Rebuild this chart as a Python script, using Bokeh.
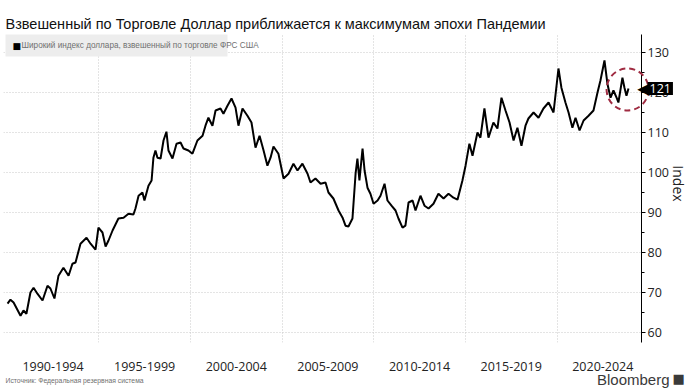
import math
from bokeh.plotting import figure
from bokeh.layouts import column
from bokeh.models import Range1d, FixedTicker, Label, BoxAnnotation
from bokeh.embed import file_html
from bokeh.resources import INLINE

# ---- data ----
years = [1990.02, 1990.18, 1990.35, 1990.73, 1990.89, 1991.05, 1991.27, 1991.44, 1991.65, 1991.93,
         1992.20, 1992.36, 1992.58, 1992.80, 1993.07, 1993.35, 1993.56, 1993.73, 1994.00, 1994.33,
         1994.55, 1994.82, 1994.98, 1995.20, 1995.37, 1995.53, 1995.75, 1996.07, 1996.35, 1996.62,
         1996.89, 1997.00, 1997.17, 1997.38, 1997.49, 1997.71, 1997.88, 1997.98, 1998.09, 1998.20,
         1998.37, 1998.53, 1998.69, 1998.80, 1999.02, 1999.24, 1999.46, 1999.62, 1999.89, 2000.11,
         2000.38, 2000.66, 2000.82, 2000.98, 2001.20, 2001.37, 2001.64, 2001.80, 2002.02, 2002.24,
         2002.46, 2002.62, 2002.84, 2003.11, 2003.33, 2003.55, 2003.77, 2003.99, 2004.20, 2004.37,
         2004.53, 2004.80, 2005.08, 2005.35, 2005.62, 2005.84, 2006.11, 2006.39, 2006.55, 2006.82,
         2007.10, 2007.37, 2007.53, 2007.80, 2008.08, 2008.30, 2008.46, 2008.62, 2008.84, 2009.01,
         2009.11, 2009.22, 2009.39, 2009.50, 2009.66, 2009.82, 2009.99, 2010.21, 2010.37, 2010.59,
         2010.75, 2010.97, 2011.19, 2011.35, 2011.57, 2011.73, 2011.90, 2012.12, 2012.28, 2012.55,
         2012.77, 2012.99, 2013.26, 2013.53, 2013.81, 2014.08, 2014.35, 2014.57, 2014.84, 2015.01,
         2015.22, 2015.39, 2015.66, 2015.82, 2016.04, 2016.26, 2016.53, 2016.75, 2016.97, 2017.19,
         2017.41, 2017.63, 2017.84, 2018.06, 2018.28, 2018.44, 2018.72, 2018.99, 2019.26, 2019.54,
         2019.81, 2020.08, 2020.24, 2020.46, 2020.63, 2020.84, 2021.01, 2021.23, 2021.45, 2021.72,
         2021.99, 2022.21, 2022.37, 2022.59, 2022.75, 2022.92, 2023.08, 2023.25, 2023.35, 2023.57,
         2023.68, 2023.79, 2023.90]

dollar_index = [67.2, 68.2, 67.5, 64.2, 65.5, 64.7, 70.0, 71.2, 69.7, 68.0,
                71.7, 71.0, 68.5, 74.2, 76.2, 74.2, 77.2, 77.5, 82.2, 83.7,
                82.2, 80.7, 86.2, 85.0, 81.5, 83.0, 85.5, 88.5, 88.7, 89.7,
                89.5, 91.0, 94.2, 95.0, 93.0, 96.7, 98.0, 103.7, 105.5, 103.7,
                103.5, 108.0, 110.2, 105.5, 103.5, 107.2, 107.5, 106.0, 105.5, 104.7,
                108.0, 109.2, 111.7, 113.7, 111.7, 115.5, 116.0, 114.7, 116.7, 118.5,
                116.2, 111.7, 116.0, 114.2, 112.5, 106.2, 109.2, 105.5, 101.7, 103.7,
                106.5, 104.7, 98.5, 99.7, 102.2, 100.5, 102.2, 99.7, 97.5, 98.5,
                97.2, 97.5, 95.0, 93.5, 90.5, 88.7, 86.7, 86.5, 88.5, 99.7,
                103.5, 98.0, 106.0, 100.5, 96.2, 94.7, 92.2, 93.0, 94.2, 97.2,
                93.0, 91.7, 90.5, 88.5, 86.2, 86.7, 92.5, 93.0, 90.5, 94.2,
                91.7, 91.0, 92.2, 94.7, 93.5, 94.7, 93.7, 93.2, 98.0, 101.7,
                107.2, 104.2, 110.0, 108.7, 116.0, 108.7, 112.5, 111.0, 118.7, 115.5,
                112.5, 108.0, 111.2, 106.7, 111.7, 113.5, 115.0, 113.7, 116.0, 117.5,
                115.0, 126.0, 121.2, 117.5, 115.0, 111.2, 113.7, 110.5, 113.0, 114.2,
                115.5, 120.0, 123.0, 128.0, 122.2, 118.7, 120.5, 118.7, 117.5, 123.7,
                121.2, 119.2, 121.0]

period_labels = ["1990-1994", "1995-1999", "2000-2004", "2005-2009",
                 "2010-2014", "2015-2019", "2020-2024"]
period_mid = [1992.5, 1997.5, 2002.5, 2007.5, 2012.5, 2017.5, 2022.5]
period_bounds = [1995, 2000, 2005, 2010, 2015, 2020]
y_ticks = [60, 70, 80, 90, 100, 110, 120, 130]
y_minor = [65, 75, 85, 95, 105, 115, 125]
highlight_x = [2023.85]
highlight_y = [120.75]

title_text = "Взвешенный по Торговле Доллар приближается к максимумам эпохи Пандемии"
legend_text = "Широкий индекс доллара, взвешенный по торговле ФРС США"
source_text = "Источник: Федеральная резервная система"
last_value = dollar_index[-1]

NARROW = "Liberation Sans Narrow, Arial Narrow, Liberation Sans, sans-serif"
TICKF = "Open Sans"

W, H = 688, 390
B_LEFT, B_RIGHT, B_TOP, B_BOTTOM = 3, 47, 34, 48
X0, X1 = 1989.8, 2024.61
Y0, Y1 = 57.5, 134.5

main = figure(width=W, height=H, output_backend="svg", toolbar_location=None,
              x_range=Range1d(X0, X1), y_range=Range1d(Y0, Y1),
              y_axis_location="right",
              min_border_left=B_LEFT, min_border_right=B_RIGHT,
              min_border_top=B_TOP, min_border_bottom=B_BOTTOM)
main.frame_align = False
main.outline_line_color = None
main.background_fill_color = "white"
main.border_fill_color = "white"

main.xaxis.ticker = FixedTicker(ticks=period_mid)
main.xaxis.major_label_overrides = {m: l for m, l in zip(period_mid, period_labels)}
main.xaxis.axis_line_color = None
main.xaxis.major_tick_line_color = None
main.xaxis.minor_tick_line_color = None
main.xaxis.major_label_standoff = 13
main.xaxis.major_label_text_font = TICKF
main.xaxis.major_label_text_font_size = "12.5px"
main.xaxis.major_label_text_color = "#222222"

main.yaxis.ticker = FixedTicker(ticks=y_ticks, minor_ticks=y_minor)
main.yaxis.axis_line_color = "black"
main.yaxis.major_tick_line_color = "black"
main.yaxis.minor_tick_line_color = "black"
main.yaxis.major_tick_in = 0
main.yaxis.major_tick_out = 4
main.yaxis.minor_tick_in = 0
main.yaxis.minor_tick_out = 3
main.yaxis.major_label_standoff = 2
main.yaxis.major_label_text_font = TICKF
main.yaxis.major_label_text_font_size = "12.5px"
main.yaxis.major_label_text_color = "#222222"

main.xgrid.ticker = FixedTicker(ticks=period_bounds)
for g in (main.xgrid, main.ygrid):
    g.grid_line_color = "#c9c9c9"
    g.grid_line_dash = "1 2"
    g.grid_line_width = 1

main.line(years, dollar_index, line_color="black", line_width=2)

# ---- transparent overlay covering the whole canvas (texts outside the frame) ----
kx = (X1 - X0) / (W - B_LEFT - B_RIGHT)
ky = (Y1 - Y0) / (H - B_TOP - B_BOTTOM)
ov = figure(width=W, height=H, output_backend="svg", toolbar_location=None,
            x_range=Range1d(X0 - B_LEFT * kx, X1 + B_RIGHT * kx),
            y_range=Range1d(Y0 - B_BOTTOM * ky, Y1 + B_TOP * ky),
            x_axis_location=None, y_axis_location=None, min_border=0)
ov.frame_align = False
ov.grid.visible = False
ov.outline_line_color = None
ov.background_fill_alpha = 0
ov.border_fill_alpha = 0
ov.margin = (-H, 0, 0, 0)


def lab(x, y, text, **kw):
    ov.add_layout(Label(x=x, y=H - y, x_units="screen", y_units="screen", text=text, **kw))


# title
lab(5, 23, title_text, text_font=NARROW, text_font_size="14.5px", text_color="#111111",
    text_baseline="alphabetic")

# legend
ov.add_layout(BoxAnnotation(left=5, right=227, top=H - 34, bottom=H - 56,
                            left_units="screen", right_units="screen",
                            top_units="screen", bottom_units="screen",
                            fill_color="#ededed", fill_alpha=1, line_color=None, level="underlay"))
lab(12, 45, "■", text_font="DejaVu Sans", text_font_size="9px", text_color="black",
    text_baseline="middle")
lab(21, 45, legend_text, text_font=NARROW, text_font_size="8.2px", text_color="#707070",
    text_baseline="middle")

# highlight circle
ov.scatter(highlight_x, highlight_y, marker="circle", size=42, fill_color=None,
           line_color="#a02c42", line_width=2, line_dash="6 4")

# last value tag
ov.add_layout(Label(x=649, y=last_value, x_units="screen", y_units="data", text="◀",
                    text_font="DejaVu Sans", text_font_size="16px", text_color="black",
                    text_align="right", text_baseline="middle"))
ov.add_layout(Label(x=647, y=last_value, x_units="screen", y_units="data",
                    text=f"{last_value:.0f}", text_font=TICKF, text_font_size="12.5px",
                    text_color="white", text_baseline="middle",
                    background_fill_color="black", padding=2))

# axis title
lab(678, 183, "Index", angle=-math.pi / 2, text_font=TICKF, text_font_size="14px",
    text_color="#222222", text_align="center", text_baseline="middle")

# footer
lab(5, 380, source_text, text_font=NARROW, text_font_size="6.8px", text_color="#707070",
    text_baseline="middle")
lab(669, 379, "Bloomberg", text_font="Liberation Sans", text_font_size="15px",
    text_color="#3a3a3a", text_align="right", text_baseline="middle")
lab(672, 378, "■", text_font="DejaVu Sans", text_font_size="13px", text_color="#3a3a3a",
    text_baseline="middle")

open("out.html", "w").write(file_html(column(main, ov, spacing=0), INLINE))
